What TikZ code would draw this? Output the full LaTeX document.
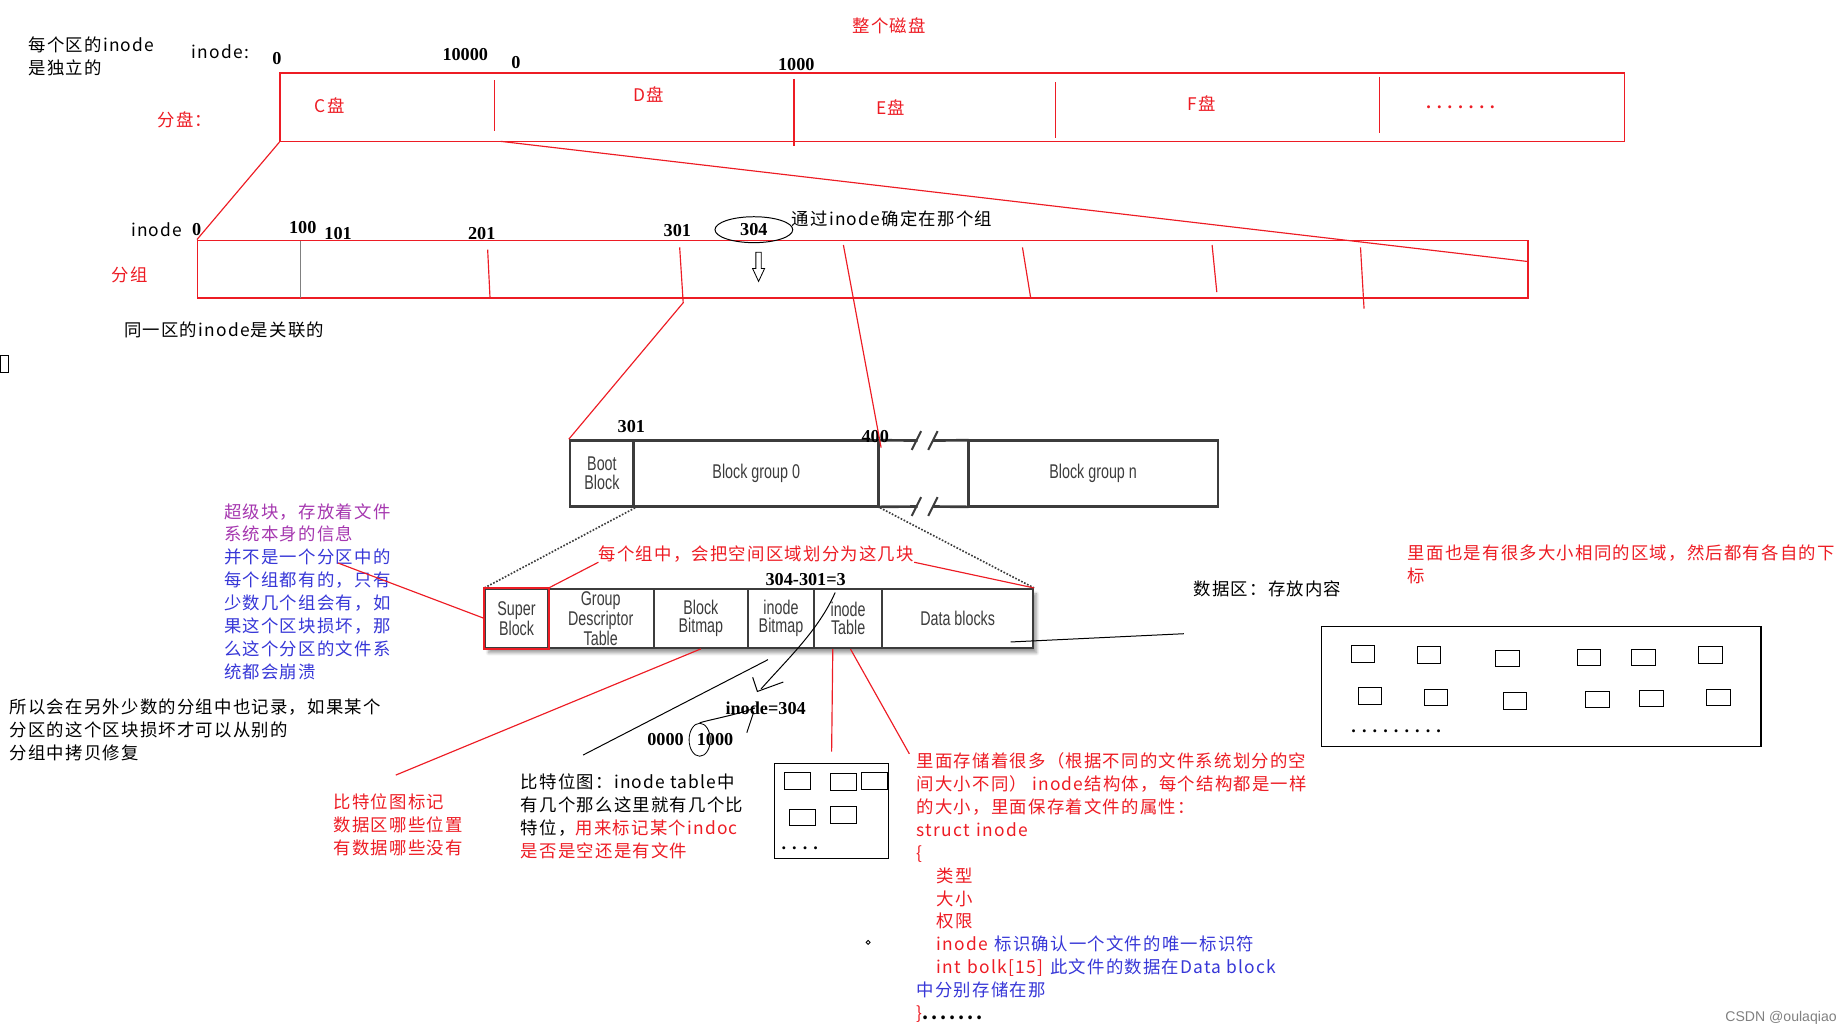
\documentclass[tikz,border=0pt]{standalone}
\usepackage{fontspec}
\setmainfont{Liberation Serif}
\newfontfamily\cjk[LetterSpace=7]{Noto Sans CJK SC}
\newfontfamily\cond[FakeStretch=0.72]{Liberation Sans}
\newfontfamily\wmark{Liberation Sans}
\usetikzlibrary{shapes.geometric,shapes.arrows,shadows.blur}
\definecolor{myred}{RGB}{237,28,36}
\definecolor{myblue}{RGB}{55,55,215}
\definecolor{mypurple}{RGB}{165,55,175}
\definecolor{blkgray}{RGB}{60,60,60}
\tikzset{
  txt/.style={inner sep=0pt, align=left, font=\cjk\fontsize{10.5}{13.8}\selectfont},
  num/.style={inner sep=0pt, font=\bfseries\fontsize{11}{13}\selectfont},
  redbar/.style={draw=myred, line width=0.9pt, inner sep=0pt},
  redln/.style={myred, line width=0.7pt},
  hand/.style={black, line width=0.6pt},
  blkln/.style={blkgray, line width=1.6pt},
  blk/.style={draw=blkgray, line width=1.6pt, inner sep=0pt, text=blkgray, align=center,
    minimum height=1.4cm, font=\cond\fontsize{12}{11.3}\selectfont},
  cell/.style={draw=blkgray, line width=1.2pt, inner sep=0pt, text=blkgray, align=center,
    minimum height=1.25cm, font=\cond\fontsize{12}{10.8}\selectfont},
  slot/.style={draw, line width=0.6pt, inner sep=0pt, minimum width=0.55cm, minimum height=0.35cm}
}
\begin{document}
\begin{tikzpicture}[x=0.025cm,y=-0.025cm]
\useasboundingbox (0,0) rectangle (1568,879);

% the whole disk
\node(title) at (755,22) [txt, text=myred] {整个磁盘};
\node(note1) at (24,31) [txt, anchor=north west] {每个区的inode\\是独立的};
\node(inodelbl) at (187,44) [txt] {inode:};
\node(d0) at (235,50) [num] {0};
\node(d10000) at (395,46) [num] {10000};
\node(e0) at (438,53) [num] {0};
\node(e1000) at (676,55) [num] {1000};
\node(fenpan) at (157,102) [txt, text=myred] {分盘：};

\node(disk) at (808.5,91) [redbar, minimum width=28.525cm, minimum height=1.45cm] {};
\draw[redln] (420,68) -- (420,111);
\draw[redln] (674,67) -- (674,124);
\draw[redln] (896,70) -- (896,117);
\draw[redln] (1171,65) -- (1171,113);
\node(cpan) at (280,90) [txt, text=myred] {C盘};
\node(dpan) at (551,80) [txt, text=myred] {D盘};
\node(epan) at (756,91) [txt, text=myred] {E盘};
\node(fpan) at (1020,88) [txt, text=myred] {F盘};
\node(morepan) at (1240,91) [num, text=myred] {. . . . . . .};

% groups of one partition
\node(grpbar) at (732.5,228.5) [redbar, minimum width=28.225cm, minimum height=1.225cm] {};
\coordinate(csplit) at (425,120);
\coordinate(gright) at (1297,222);
\draw[redln] (disk.south west) -- (grpbar.north west);
\draw[redln] (csplit) -- (gright);

\draw[gray, line width=0.5pt] (255,205) -- (255,253);
\draw[redln] (414,212) -- (416,253);
\draw[redln] (868,210) -- (875,253);
\draw[redln] (1029,208) -- (1033,248);
\draw[redln] (1155,210) -- (1158,262);

\node(ginode) at (133,195) [txt] {inode};
\node(g0) at (167,195) [num] {0};
\node(g100) at (257,193) [num] {100};
\node(g101) at (287,198) [num] {101};
\node(g201) at (409,198) [num] {201};
\node(g301) at (575,196) [num] {301};
\node(n304) at (640,195) [ellipse, draw, line width=0.6pt, minimum width=1.65cm, minimum height=0.55cm, num] {304};
\node(findgrp) at (672,186) [txt, anchor=west] {通过inode确定在那个组};
\node(down) at (644,224) [single arrow, draw, line width=0.5pt, shape border rotate=270, inner sep=1.4pt,
  minimum height=0.62cm, single arrow head extend=0.07cm, single arrow tip angle=50] {};
\node(fenzu) at (110,233) [txt, text=myred] {分组};
\node(note2) at (105,280) [txt, anchor=west] {同一区的inode是关联的};
\draw[line width=0.8pt] (0,302) rectangle (7,316);

% block groups
\node(boot) at (511,402) [blk, minimum width=1.35cm] {Boot\\Block};
\node(grp0) at (642,402) [blk, minimum width=5.2cm] {Block group 0};
\node(gap) at (784,402) [minimum width=1.9cm, minimum height=1.4cm, inner sep=0pt] {};
\node(grpn) at (928,402) [blk, minimum width=5.3cm] {Block group n};
\draw[blkln] (gap.north west) -- (779,374) (792,374) -- (gap.north east);
\draw[blkln] (gap.south west) -- (779,430) (792,430) -- (gap.south east);
\draw[blkln, line width=1.2pt] (774,382) -- (782,366) (788,382) -- (796,366);
\draw[blkln, line width=1.2pt] (774,438) -- (782,422) (788,438) -- (796,422);
\node(n301) at (536,362) [num] {301};
\node(n400) at (743,371) [num] {400};

\draw[redln] (577,210) -- (580,257) -- (boot.north west);
\draw[redln] (716,208) -- (748,380);

% inside one group
\node(row) at (644.5,525) [fill=white, minimum width=11.625cm, minimum height=1.25cm,
  blur shadow={shadow xshift=2pt, shadow yshift=-3pt, shadow blur steps=8}] {};
\node(super) at (438.5,525) [cell, minimum width=1.325cm] {Super\\Block};
\node(gdt) at (510,525) [cell, minimum width=2.25cm] {Group\\Descriptor\\Table};
\node(bbm) at (595,525) [cell, minimum width=2cm] {Block\\Bitmap};
\node(ibm) at (663,525) [cell, minimum width=1.4cm] {inode\\Bitmap};
\node(itab) at (720,525) [cell, minimum width=1.45cm] {inode\\Table};
\node(data) at (813,525) [cell, minimum width=3.2cm] {Data blocks};
\draw[blkgray, densely dotted, line width=1pt] (boot.south east) -- (super.north west);
\draw[blkgray, densely dotted, line width=1pt] (grp0.south east) -- (data.north east);
\draw[myred, line width=1pt] (super.north west) rectangle (super.south east);

\node(split) at (508,470) [txt, anchor=west, text=myred] {每个组中，会把空间区域划分为这几块};
\draw[redln] (super.north east) -- (split.south west);
\draw[redln] (split.south east) -- (data.north east);
\node(diff) at (684,492) [num] {304-301=3};

% super block note
\node(sbinfo) at (190,427) [txt, anchor=north west, text=myblue] {\textcolor{mypurple}{超级块，存放着文件}\\\textcolor{mypurple}{系统本身的信息}\\并不是一个分区中的\\每个组都有的，只有\\少数几个组会有，如\\果这个区块损坏，那\\么这个分区的文件系\\统都会崩溃};
\coordinate(sbfrom) at (287,478);
\draw[redln] (sbfrom) -- (super.west);
\node(backup) at (8,593) [txt, anchor=north west] {所以会在另外少数的分组中也记录，如果某个\\分区的这个区块损坏才可以从别的\\分组中拷贝修复};

% block bitmap
\node(bmnote) at (283,674) [txt, anchor=north west, text=myred] {比特位图标记\\数据区哪些位置\\有数据哪些没有};
\coordinate(bmend) at (336,658);
\draw[redln] (bbm.south) -- (bmend);

% inode bitmap
\node(bitmap) at (442,657) [txt, anchor=north west] {比特位图：inode table中\\有几个那么这里就有几个比\\特位，\textcolor{myred}{用来标记某个indoc}\\\textcolor{myred}{是否是空还是有文件}};
\coordinate(ibmout) at (652,560);
\coordinate(bitmapin) at (495,641);
\draw[hand] (ibmout) -- (bitmapin);
\node(ival) at (650,601) [num] {inode=304};
\node(bits0) at (565,628) [num] {0000};
\node(bits1) at (607,628) [num] {1000};
\node(bit1) at (594,628) [ellipse, draw, line width=0.5pt, minimum width=0.45cm, minimum height=0.7cm, inner sep=0pt] {};
\draw[hand] (709,503) .. controls (695,535) and (668,560) .. (646,585);
\draw[hand] (639,575) -- (643,587) -- (665,579);
\draw[hand] (bit1.north) .. controls (602,611) and (625,607) .. (641,601);
\draw[hand] (640,604) -- (634,622);

% inode table
\node(tbl) at (706,688.5) [draw, line width=0.7pt, minimum width=2.425cm, minimum height=2cm] {};
\foreach \x/\y [count=\i] in {677/663, 716/664, 742.5/663, 681/694, 716/692}
  \node(t\i) at (\x,\y) [slot] {};
\node(tdots) at (679,720) [num] {. . . .};
\draw[redln] (707,551) -- (706,638);
\draw[redln] (722,551) -- (772,640);
\node(istruct) at (778,639) [txt, anchor=north west, text=myred] {里面存储着很多（根据不同的文件系统划分的空\\间大小不同） inode结构体，每个结构都是一样\\的大小，里面保存着文件的属性：\\struct\hspace{0.4em}inode\\\{\\\hspace*{0.42cm}类型\\\hspace*{0.42cm}大小\\\hspace*{0.42cm}权限\\\hspace*{0.42cm}inode\hspace{0.4em}\textcolor{myblue}{标识确认一个文件的唯一标识符}\\\hspace*{0.42cm}int\hspace{0.4em}bolk[15]\hspace{0.4em}\textcolor{myblue}{此文件的数据在Data block}\\\textcolor{myblue}{中分别存储在那}\\\}\textcolor{black}{\bfseries .\,.\,.\,.\,.\,.\,.}};
\draw[line width=0.5pt] (737,800) circle (1.2pt);

% data blocks
\coordinate(datafrom) at (858,545);
\coordinate(datato) at (1005,538);
\draw[hand] (datafrom) -- (datato);
\node(datalbl) at (1013,500) [txt, anchor=west] {数据区：存放内容};
\node(samesize) at (1195,462) [txt, anchor=north west, text=myred] {里面也是有很多大小相同的区域，然后都有各自的下\\标};
\node(store) at (1308.5,583) [draw, line width=0.8pt, minimum width=9.325cm, minimum height=2.55cm] {};
\foreach \x/\y [count=\i] in {1157/555,1213/556,1280/559,1349/558,1395/558,1452/556,1163/591,1219/592,1286/595,1356/594,1402/593,1459/592}
  \node(b\i) at (\x,\y) [slot, minimum width=0.5cm] {};
\node(sdots) at (1147,621) [num, anchor=west] {. . . . . . . . .};

\node(csdn) at (1512,864) [inner sep=0pt, text=gray, font=\wmark\fontsize{8.5}{10}\selectfont] {CSDN @oulaqiao};

\end{tikzpicture}
\end{document}
